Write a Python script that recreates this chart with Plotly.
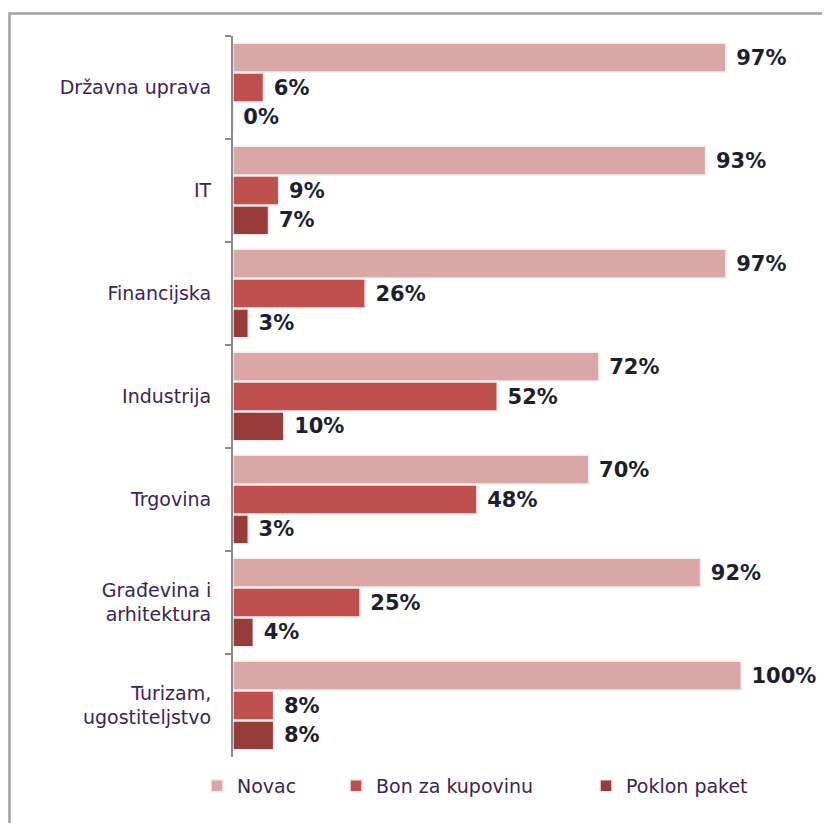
import plotly.graph_objects as go

KATEGORIJE = [
    "Državna uprava",
    "IT",
    "Financijska",
    "Industrija",
    "Trgovina",
    "Građevina i<br>arhitektura",
    "Turizam,<br>ugostiteljstvo",
]

NOVAC = [97, 93, 97, 72, 70, 92, 100]
BON = [6, 9, 26, 52, 48, 25, 8]
POKLON = [0, 7, 3, 10, 3, 4, 8]

SERIJE = [
    ("Novac", NOVAC, "#D9A7A6"),
    ("Bon za kupovinu", BON, "#C0504D"),
    ("Poklon paket", POKLON, "#983C3A"),
]

# La página se dibuja con 8 px de margen del body, así que todo va desplazado.
OFF = 8
W, H = 830, 823
ML, MR, MT, MB = 233 - OFF, 46, 36 - OFF, 74
PW, PH = W - ML - MR, H - MT - MB

# Cada serie lleva su propia leyenda para respetar la separación del original.
LEYENDAS = ["legend", "legend2", "legend3"]
LEYENDA_X = [197, 336, 586]

fig = go.Figure()

for (nombre, valores, color), leyenda in zip(SERIJE, LEYENDAS):
    fig.add_trace(
        go.Bar(
            name=nombre,
            y=KATEGORIJE,
            x=valores,
            orientation="h",
            marker_color=color,
            marker_line_color="#F4ECEC",
            marker_line_width=1.5,
            text=[f"\u00a0{v}%" for v in valores],
            textposition="outside",
            textfont=dict(family="DejaVu Sans", size=21, color="#1E1E2E", weight="bold"),
            constraintext="none",
            cliponaxis=False,
            hoverinfo="skip",
            legend=leyenda,
        )
    )

# Marco gris del gráfico (solo se ven los lados izquierdo y superior).
fig.add_shape(
    type="rect",
    xref="paper",
    yref="paper",
    x0=(9.5 - OFF - ML) / PW,
    x1=(W + 20 - ML) / PW,
    y0=-(H + 20 - MT - PH) / PH,
    y1=1 + (MT - (13.5 - OFF)) / PH,
    line=dict(color="#A3A3A3", width=2.5),
    layer="below",
)

leyendas = {}
for leyenda, x in zip(LEYENDAS, LEYENDA_X):
    leyendas[leyenda] = dict(
        orientation="h",
        x=(x - OFF - ML) / PW,
        xanchor="left",
        y=-(786 - OFF - MT - PH) / PH,
        yanchor="middle",
        font=dict(size=19, color="#3C2456"),
        bgcolor="rgba(0,0,0,0)",
    )

fig.update_layout(
    width=W,
    height=H,
    margin=dict(l=ML, r=MR, t=MT, b=MB),
    paper_bgcolor="white",
    plot_bgcolor="white",
    barmode="group",
    bargap=0.13,
    bargroupgap=0.03,
    font=dict(family="DejaVu Sans", size=19, color="#3C2456"),
    showlegend=True,
    xaxis=dict(
        range=[0, 110],
        visible=False,
        showgrid=False,
        zeroline=False,
    ),
    yaxis=dict(
        autorange="reversed",
        showline=True,
        linecolor="#8A8A8A",
        linewidth=2,
        ticks="outside",
        tickson="boundaries",
        ticklen=6,
        tickcolor="#8A8A8A",
        tickwidth=2,
        ticklabelstandoff=16,
        showgrid=False,
        tickfont=dict(size=19, color="#3C2456"),
    ),
    **leyendas,
)

fig.write_html("out.html")
